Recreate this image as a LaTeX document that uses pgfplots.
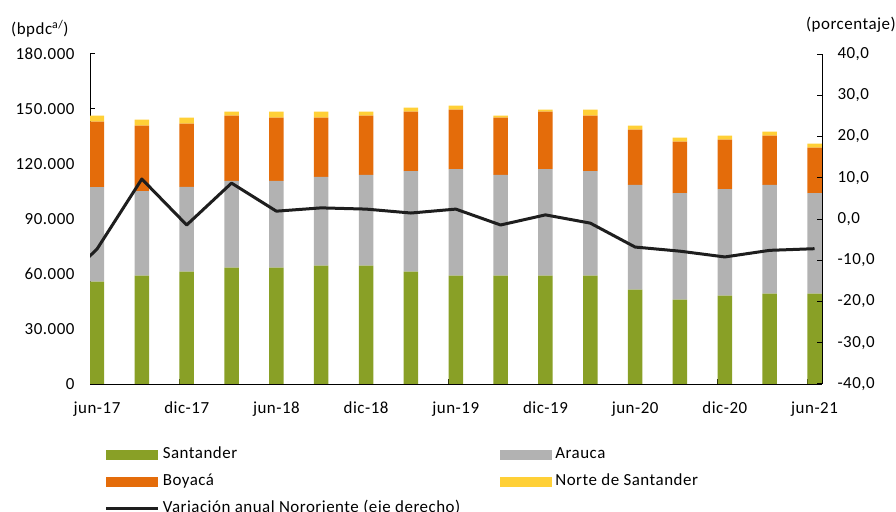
\documentclass[border=0pt]{standalone}
\usepackage{fontspec}
\setmainfont{Carlito}[LetterSpace=3]
\usepackage{pgfplots}
\usepackage{pgfplotstable}
\pgfplotsset{compat=1.18}
\definecolor{cgreen}{RGB}{137,160,38}
\definecolor{cgray}{RGB}{178,178,178}
\definecolor{corange}{RGB}{228,108,10}
\definecolor{cyellow}{RGB}{255,208,55}
\definecolor{cline}{RGB}{30,30,30}

\pgfplotstableread{
x S A B N
0 55800 51650 35620 3280
1 59070 46200 35630 3270
2 61270 46190 34550 3260
3 63450 47280 35620 2190
4 63450 47280 34530 3280
5 64540 48370 32350 3280
6 64540 49460 32350 2190
7 61270 54910 32360 2180
8 59070 58200 32360 2190
9 59070 54930 31260 1090
10 59070 58200 31270 1090
11 59070 57110 30170 3280
12 51450 57100 30180 2180
13 46000 58180 28000 2180
14 48180 58180 26910 2180
15 49270 59280 26900 2180
16 49270 54910 24730 2180
}\bars

\pgfplotstableread{
x v
-1 -17.7
0 -7.3
1 9.7
2 -1.45
3 8.7
4 1.9
5 2.7
6 2.4
7 1.45
8 2.4
9 -1.45
10 1.0
11 -1.0
12 -6.8
13 -7.8
14 -9.2
15 -7.6
16 -7.2
}\var

\begin{document}
\begin{tikzpicture}[font=\fontsize{17}{20}\selectfont]
\path[use as bounding box] (0bp,0bp) rectangle (896bp,512bp);
\begin{axis}[
  at={(90bp,128bp)}, anchor=south west,
  scale only axis, width=732bp, height=330bp,
  xmin=-0.156, xmax=16.167, ymin=0, ymax=180000,
  ybar stacked, bar width=0.323,
  axis x line*=bottom, axis y line*=left,
  axis line style={black, line width=1bp, -},
  tick align=inside, major tick length=5bp,
  every tick/.style={black, line width=1bp},
  ytick={0,30000,60000,90000,120000,150000,180000},
  yticklabels={0,30.000,60.000,90.000,120.000,150.000,180.000},
  yticklabel style={xshift=-12bp},
  scaled y ticks=false,
  xtick={-0.156,1.844,3.844,5.844,7.844,9.844,11.844,13.844,15.844},
  xticklabels={},
  extra x ticks={0,2,4,6,8,10,12,14,16},
  extra x tick labels={jun-17,dic-17,jun-18,dic-18,jun-19,dic-19,jun-20,dic-20,jun-21},
  extra x tick style={major tick length=0pt},
  xticklabel style={yshift=-14bp},
  legend image code/.code={\fill[#1] (0bp,-5bp) rectangle (52bp,5bp);},
  legend columns=2,
  legend style={at={(axis description cs:0.02,-0.18)}, anchor=north west,
    draw=none, fill=none, inner sep=0pt,
    nodes={inner sep=3bp, text height=12bp, text depth=4bp},
    row sep=5bp,
    /tikz/every even column/.append style={column sep=37bp}},
  legend cell align=left,
]
\addplot[fill=cgreen, draw=none] table[x=x, y=S]{\bars};
\addlegendentry{Santander}
\addplot[fill=cgray, draw=none] table[x=x, y=A]{\bars};
\addlegendentry{Arauca}
\addplot[fill=corange, draw=none] table[x=x, y=B]{\bars};
\addlegendentry{Boyacá}
\addplot[fill=cyellow, draw=none] table[x=x, y=N]{\bars};
\addlegendentry{Norte de Santander}
\addlegendimage{legend image code/.code={\draw[cline, line width=3bp] (0bp,0bp) -- (52bp,0bp);}}
\addlegendentry{Variación anual Nororiente (eje derecho)}
\end{axis}
\begin{axis}[
  at={(90bp,128bp)}, anchor=south west,
  scale only axis, width=732bp, height=330bp,
  xmin=-0.156, xmax=16.167, ymin=-40, ymax=40,
  axis x line=none, axis y line*=right,
  axis line style={black, line width=1bp, -},
  tick align=inside, major tick length=5bp,
  every tick/.style={black, line width=1bp},
  ytick={-40,-30,-20,-10,0,10,20,30,40},
  yticklabels={{-40,0},{-30,0},{-20,0},{-10,0},{0,0},{10,0},{20,0},{30,0},{40,0}},
  yticklabel style={xshift=12bp},
]
\addplot[cline, line width=3bp, line join=round] table[x=x, y=v]{\var};
\end{axis}
\node[anchor=west, inner sep=0pt] at (11bp,483bp) {(bpdc\textsuperscript{a/})};
\node[anchor=east, inner sep=0pt] at (896bp,487bp) {(porcentaje)};
\end{tikzpicture}
\end{document}
